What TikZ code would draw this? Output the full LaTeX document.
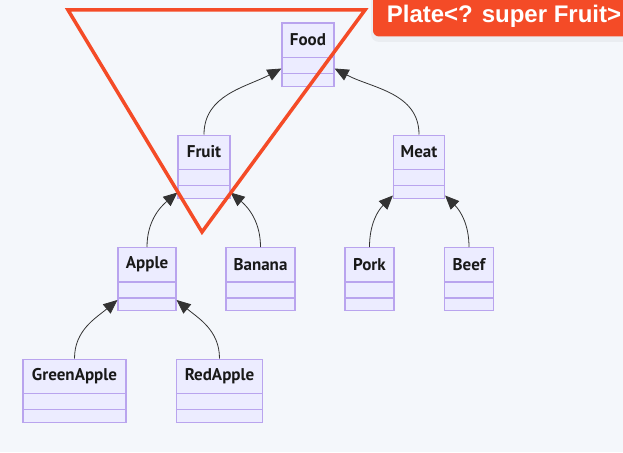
\documentclass[tikz,border=0pt]{standalone}
\usepackage{fontspec}
\setmainfont{PT Sans}
\newfontfamily\platefont{Liberation Sans}
\usetikzlibrary{arrows.meta}

\definecolor{bgcol}{HTML}{F4F7FB}
\definecolor{clsfill}{HTML}{ECECFF}
\definecolor{clsdraw}{HTML}{B9A4EE}
\definecolor{platered}{HTML}{F44B27}
\definecolor{arrowcol}{HTML}{333333}

\begin{document}
\begin{tikzpicture}[x=1pt,y=-1pt,
    cls/.style={draw=clsdraw, fill=clsfill, line width=1.2pt, minimum height=63pt, anchor=north, inner sep=0pt},
    clsname/.style={font=\bfseries\fontsize{17}{19}\selectfont, text=black!90},
    clsline/.style={draw=clsdraw, line width=1.2pt},
    inherit/.style={draw=arrowcol, line width=0.8pt, -{Triangle[length=14pt,width=12pt]}},
    plate/.style={draw=platered, line width=3.5pt, line join=miter}]
            \fill[bgcol] (0,0) rectangle (623,452);
            \useasboundingbox (0,0) rectangle (623,452);
            % classes
            \foreach \name/\x/\y/\w/\txt in {food/308/22.5/52/Food, fruit/204/134.5/52/Fruit,
                    meat/419/134.5/51/Meat, apple/147/247/58/Apple, banana/260.5/247/69/Banana,
                    pork/369.5/247/49/Pork, beef/469/247/49/Beef,
                    greenapple/74.5/358.5/103/GreenApple, redapple/219.5/358.5/86/RedApple} {
                \node[cls, minimum width=\w] (\name) at (\x,\y) {};
                \node[clsname] (\name-label) at ([yshift=-17.5pt]\name.north) {\txt};
                \draw[clsline] ([yshift=-35pt]\name.north west) -- ([yshift=-35pt]\name.north east)
                               ([yshift=-51pt]\name.north west) -- ([yshift=-51pt]\name.north east);
            }
            % inheritance
            \draw[inherit] (fruit.north) to[out=90, in=-152] ([yshift=-46pt]food.north west);
            \draw[inherit] (meat.north) to[out=90, in=-28] ([yshift=-46pt]food.north east);
            \draw[inherit] (apple.north) to[out=90, in=-140] ([yshift=-58pt]fruit.north west);
            \draw[inherit] (banana.north) to[out=90, in=-40] ([yshift=-58pt]fruit.north east);
            \draw[inherit] (pork.north) to[out=90, in=-135] ([yshift=-61pt]meat.north west);
            \draw[inherit] (beef.north) to[out=90, in=-45] ([yshift=-61pt]meat.north east);
            \draw[inherit] (greenapple.north) to[out=90, in=-140] ([yshift=-53pt]apple.north west);
            \draw[inherit] (redapple.north) to[out=90, in=-40] ([yshift=-53pt]apple.north east);
            % plate
            \draw[plate] (68,10) -- (365,10) -- (202,232) -- cycle;
            \fill[black, opacity=0.04, rounded corners=8pt] (371,-10) rectangle (640,42);
            \fill[platered, rounded corners=6pt] (373,-10) rectangle (640,36.5);
            \node[text=white, font=\platefont\bfseries\fontsize{24}{27}\selectfont] (plate-label) at (504,16) {Plate<? super Fruit>};
\end{tikzpicture}
\end{document}
